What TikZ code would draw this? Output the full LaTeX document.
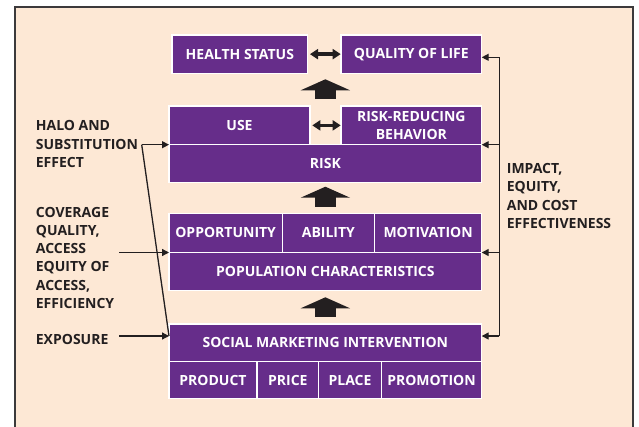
\documentclass[tikz,border=0pt]{standalone}
\usepackage{fontspec}
\setmainfont{Open Sans}
\usepackage{tikz}
\usetikzlibrary{arrows.meta, positioning, calc}

\definecolor{smpurple}{HTML}{662D8A}
\definecolor{peach}{HTML}{FDE8D5}
\definecolor{ink}{HTML}{231F20}
\definecolor{framegray}{HTML}{3C3A3B}

\begin{document}
\begin{tikzpicture}[x=1pt, y=-1pt,
  cell/.style={fill=smpurple, draw=white, line width=1.3pt, text=white,
    font=\bfseries\fontsize{14}{18.3}\selectfont, inner sep=0pt, outer sep=0pt,
    align=center},
  sidelabel/.style={text=ink, font=\bfseries\fontsize{14}{18.3}\selectfont,
    align=left, inner sep=0pt, anchor=base west},
  link/.style={draw=ink, line width=1.3pt, -{Triangle[length=7pt, width=7pt]}},
  both/.style={draw=ink, line width=3.5pt,
    {Triangle[length=8pt, width=10pt]}-{Triangle[length=8pt, width=10pt]},
    shorten <=2.3pt, shorten >=0.3pt},
  lift/.style={draw=ink, line width=20.7pt, -{Triangle[length=11pt, width=49pt]}}]
\useasboundingbox (0,0) rectangle (639,426);

% panel
\fill[peach] (14.7,7.3) rectangle (633.3,440);
\draw[framegray, line width=2pt] (14.7,440) -- (14.7,7.3) -- (633.3,7.3) -- (633.3,440);

% top row
\node[cell, minimum width=135.7pt, minimum height=38.3pt] (hs) at (239.85,54.15) {HEALTH STATUS};
\node[cell, minimum width=140.7pt, minimum height=38.3pt] (qol) at (411.35,54.15) {QUALITY OF LIFE};

% behaviour and risk
\node[cell, minimum width=141pt, minimum height=38.7pt] (use) at (239.5,125.35) {USE};
\node[cell, minimum width=140.7pt, minimum height=38.7pt] (rrb) at (411.35,125.35) {RISK-REDUCING\\BEHAVIOR};
\node[cell, minimum width=312.7pt, minimum height=38pt] (risk) at (325.35,163.7) {RISK};

% population
\node[cell, minimum width=113.3pt, minimum height=39.2pt] (opp) at (225.65,232.9) {OPPORTUNITY};
\node[cell, minimum width=92.2pt, minimum height=39.2pt] (abi) at (328.4,232.9) {ABILITY};
\node[cell, minimum width=107.2pt, minimum height=39.2pt] (mot) at (428.1,232.9) {MOTIVATION};
\node[cell, minimum width=312.7pt, minimum height=38.2pt] (pop) at (325.35,271.6) {POPULATION CHARACTERISTICS};

% intervention and the four Ps
\node[cell, minimum width=312.7pt, minimum height=37.3pt] (smi) at (325.35,342.65) {SOCIAL MARKETING INTERVENTION};
\node[cell, minimum width=88pt, minimum height=37.4pt] (prod) at (213,380) {PRODUCT};
\node[cell, minimum width=61.7pt, minimum height=37.4pt] (price) at (287.85,380) {PRICE};
\node[cell, minimum width=62.6pt, minimum height=37.4pt] (place) at (350,380) {PLACE};
\node[cell, minimum width=100.4pt, minimum height=37.4pt] (promo) at (431.5,380) {PROMOTION};

% two-way links
\draw[both] (hs.east) -- (qol.west);
\draw[both] (use.east) -- (rrb.west);

% upward block arrows
\draw[lift, shorten <=7pt, shorten >=6pt] (risk.north |- use.north) -- (risk.north |- hs.south);
\draw[lift, shorten <=6.6pt, shorten >=4pt] (pop.north |- opp.north) -- (risk.south);
\draw[lift, shorten <=7.3pt, shorten >=6.6pt] (smi.north) -- (pop.south);

% measures on the left (base anchor sits on the last line)
\node[sidelabel] (halo) at (35.7,167.3) {HALO AND\\SUBSTITUTION\\EFFECT};
\node[sidelabel] (cover) at (35.7,308.5) {COVERAGE\\QUALITY,\\ACCESS\\EQUITY OF\\ACCESS,\\EFFICIENCY};
\node[sidelabel] (expo) at (35.7,344.5) {EXPOSURE};
\coordinate (hsplit) at (141.7,144.7);
\coordinate (cin) at (119,252.5);
\coordinate (ein) at (119,336);
\draw[link] (hsplit) -- (hsplit -| risk.west);
\draw[link] (cin) -- (cin -| pop.west);
\draw[link] (ein) -- (ein -| smi.west);
\draw[draw=ink, line width=1.3pt] (hsplit) -- (ein -| smi.west);

% measures on the right
\node[sidelabel] (impact) at (506.7,228.3) {IMPACT,\\EQUITY,\\AND COST\\EFFECTIVENESS};
\coordinate (r1) at (499.3,57.3);
\coordinate (r2) at (499.3,144.7);
\coordinate (r3) at (499.3,252.5);
\coordinate (r4) at (499.3,336);
\draw[draw=ink, line width=1.3pt] (r1) -- (r4);
\draw[link] (r1) -- (r1 -| qol.east);
\draw[link] (r2) -- (r2 -| risk.east);
\draw[link] (r3) -- (r3 -| pop.east);
\draw[link] (r4) -- (r4 -| smi.east);
\end{tikzpicture}
\end{document}
